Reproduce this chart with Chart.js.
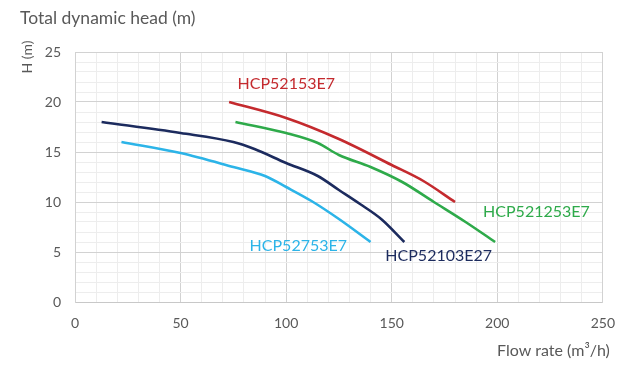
<!DOCTYPE html>
<html>
<head>
<meta charset="UTF-8"/>
<style>
  html, body { margin:0; padding:0; background:#fff; }
  #wrap { width:628px; height:367px; position:relative; }
</style>
<script src="https://cdn.jsdelivr.net/npm/chart.js"></script>
</head>
<body>
<div id="wrap"><canvas id="chart" width="628" height="367"></canvas></div>
<script>
  // pump curves, flow rate (m3/h) vs head (m)
  const redFlow   = [73, 100, 125, 150, 165, 180];
  const redHead   = [20, 18.4, 16.3, 13.7, 12.1, 10];

  const greenFlow = [76, 100, 115, 125, 140, 155, 170, 185, 199];
  const greenHead = [18, 16.9, 15.9, 14.7, 13.5, 12.0, 10.0, 8.0, 6];

  const navyFlow  = [12.6, 50, 75, 85, 100, 115, 125, 135, 145, 156];
  const navyHead  = [18, 16.9, 16, 15.3, 13.9, 12.6, 11.2, 9.8, 8.3, 6];

  const blueFlow  = [22, 50, 75, 90, 100, 112, 125, 140];
  const blueHead  = [16, 14.9, 13.5, 12.6, 11.5, 10.1, 8.3, 6];

  const seriesNames = ['HCP52153E7', 'HCP521253E7', 'HCP52103E27', 'HCP52753E7'];
  const seriesColors = ['#c42a2e', '#2eaa4a', '#1c2b5e', '#2cb4e8'];

  const xTicks = [0, 50, 100, 150, 200, 250];
  const yTicks = [0, 5, 10, 15, 20, 25];

  const pts = (xs, ys) => xs.map((x, i) => ({ x, y: ys[i] }));

  // where the curve names sit, in data units
  const nameSpots = [
    { x: 77, y: 21.8 },
    { x: 193.3, y: 9.0 },
    { x: 147, y: 4.6 },
    { x: 82.7, y: 5.6 }
  ];

  const textPlugin = {
    id: 'texts',
    afterDatasetsDraw(chart) {
      const { ctx, scales: { x, y } } = chart;
      ctx.save();
      ctx.textBaseline = 'middle';
      ctx.textAlign = 'left';
      ctx.font = '16px Lato, "Open Sans", sans-serif';
      nameSpots.forEach((p, i) => {
        ctx.fillStyle = seriesColors[i];
        ctx.fillText(seriesNames[i], x.getPixelForValue(p.x), y.getPixelForValue(p.y));
      });
      ctx.fillStyle = '#595959';
      ctx.font = '17.5px Lato, "Open Sans", sans-serif';
      ctx.fillText('Total dynamic head (m)', 20, 18);
      ctx.font = '16px Lato, "Open Sans", sans-serif';
      ctx.fillText('Flow rate (m\u00B3/h)', 497, 351);
      ctx.translate(27, 57);
      ctx.rotate(-Math.PI / 2);
      ctx.textAlign = 'center';
      ctx.font = '14px Lato, "Open Sans", sans-serif';
      ctx.fillText('H (m)', 0, 0);
      ctx.restore();
    }
  };

  const gridColor = (ctx, major) =>
    ctx.tick && ctx.tick.value % major === 0 ? '#d2d2d2' : '#ededed';

  new Chart(document.getElementById('chart'), {
    type: 'scatter',
    data: {
      datasets: [
        { label: seriesNames[0], data: pts(redFlow, redHead) },
        { label: seriesNames[1], data: pts(greenFlow, greenHead) },
        { label: seriesNames[2], data: pts(navyFlow, navyHead) },
        { label: seriesNames[3], data: pts(blueFlow, blueHead) }
      ].map((d, i) => ({
        ...d,
        showLine: true,
        borderColor: seriesColors[i],
        backgroundColor: seriesColors[i],
        borderWidth: 2.6,
        pointRadius: 0,
        cubicInterpolationMode: 'monotone'
      }))
    },
    options: {
      responsive: false,
      animation: false,
      layout: { padding: { top: 52, right: 24, left: 0, bottom: 0 } },
      plugins: { legend: { display: false }, tooltip: { enabled: false } },
      scales: {
        x: {
          type: 'linear',
          min: 0, max: 250,
          afterFit: s => { s.height = 65; },
          border: { display: true, color: '#c8c8c8' },
          grid: { drawTicks: false, color: c => gridColor(c, 50) },
          ticks: {
            stepSize: 10,
            autoSkip: false,
            maxRotation: 0,
            padding: 13,
            color: '#595959',
            font: { family: 'Lato, "Open Sans", sans-serif', size: 14 },
            callback: v => xTicks.includes(v) ? v : ''
          }
        },
        y: {
          min: 0, max: 25,
          afterFit: s => { s.width = 75; },
          border: { display: true, color: '#d2d2d2' },
          grid: { drawTicks: false, color: c => gridColor(c, 5) },
          ticks: {
            stepSize: 1,
            autoSkip: false,
            padding: 14,
            color: '#595959',
            font: { family: 'Lato, "Open Sans", sans-serif', size: 14 },
            callback: v => yTicks.includes(v) ? v : ''
          }
        },
        x2: {
          type: 'linear', position: 'top', min: 0, max: 250, display: true,
          afterFit: s => { s.height = 0; },
          ticks: { display: false }, grid: { display: false },
          border: { display: true, color: '#d2d2d2' }
        },
        y2: {
          position: 'right', min: 0, max: 25, display: true,
          afterFit: s => { s.width = 0; },
          ticks: { display: false }, grid: { display: false },
          border: { display: true, color: '#d2d2d2' }
        }
      }
    },
    plugins: [textPlugin]
  });
</script>
</body>
</html>
